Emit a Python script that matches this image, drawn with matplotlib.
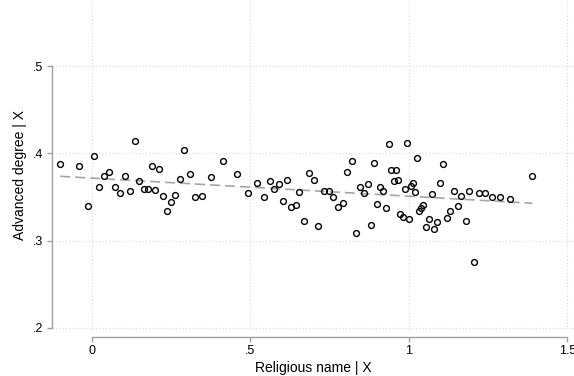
import matplotlib
matplotlib.use("Agg")
import matplotlib.pyplot as plt

plt.rcParams['font.family'] = ['Liberation Sans', 'DejaVu Sans']

# binned means
religious_name = [
    -0.101, -0.042, -0.013, 0.007, 0.023, 0.039, 0.055, 0.072, 0.088, 0.104,
    0.119, 0.135, 0.150, 0.164, 0.177, 0.188, 0.200, 0.211, 0.224, 0.237,
    0.250, 0.263, 0.278, 0.291, 0.309, 0.326, 0.348, 0.375, 0.413, 0.457,
    0.491, 0.521, 0.542, 0.562, 0.575, 0.590, 0.603, 0.615, 0.628, 0.643,
    0.654, 0.669, 0.684, 0.700, 0.714, 0.731, 0.748, 0.762, 0.776, 0.791,
    0.804, 0.819, 0.833, 0.846, 0.858, 0.870, 0.880, 0.890, 0.899, 0.909,
    0.918, 0.927, 0.937, 0.944, 0.959, 0.952, 0.967, 0.973, 0.982, 0.994,
    1.001, 0.987, 1.006, 1.013, 1.020, 1.026, 1.032, 1.038, 1.046, 1.054,
    1.063, 1.072, 1.080, 1.089, 1.098, 1.108, 1.119, 1.130, 1.143, 1.155,
    1.166, 1.180, 1.191, 1.206, 1.222, 1.240, 1.262, 1.287, 1.320, 1.390,
]
advanced_degree = [
    0.388, 0.385, 0.340, 0.397, 0.362, 0.374, 0.379, 0.361, 0.355, 0.374,
    0.357, 0.414, 0.368, 0.359, 0.359, 0.385, 0.358, 0.382, 0.351, 0.334,
    0.344, 0.352, 0.371, 0.404, 0.376, 0.350, 0.351, 0.373, 0.391, 0.376,
    0.355, 0.366, 0.350, 0.368, 0.359, 0.365, 0.345, 0.369, 0.339, 0.341,
    0.356, 0.322, 0.378, 0.369, 0.317, 0.357, 0.357, 0.350, 0.338, 0.343,
    0.379, 0.391, 0.309, 0.362, 0.355, 0.365, 0.318, 0.389, 0.342, 0.361,
    0.357, 0.337, 0.411, 0.381, 0.381, 0.368, 0.369, 0.330, 0.327, 0.412,
    0.325, 0.359, 0.363, 0.366, 0.356, 0.395, 0.334, 0.337, 0.341, 0.316,
    0.325, 0.353, 0.313, 0.321, 0.366, 0.388, 0.326, 0.334, 0.357, 0.340,
    0.351, 0.323, 0.357, 0.276, 0.355, 0.355, 0.350, 0.350, 0.348, 0.374,
]

# fitted line endpoints
fit_x = [-0.10, 1.39]
fit_y = [0.3737, 0.3428]

xticks = [0, 0.5, 1, 1.5]
xtick_labels = ['0', '.5', '1', '1.5']
yticks = [0.2, 0.3, 0.4, 0.5]
ytick_labels = ['.2', '.3', '.4', '.5']

fig = plt.figure(figsize=(5.74, 3.76), dpi=100)
ax = fig.add_axes([52 / 574, 1 - 330 / 376, 522 / 574, 330 / 376])

ax.grid(True, linestyle=(0, (1, 2)), color='#d9d9d9', linewidth=0.8)
ax.set_axisbelow(True)

ax.plot(fit_x, fit_y, linestyle=(0, (6, 3)), color='#a6a6a6', linewidth=1.2, zorder=2)
ax.plot(religious_name, advanced_degree, 'o', markersize=4.2, markerfacecolor='none',
        markeredgecolor='black', markeredgewidth=1.0, zorder=3)

ax.set_xlim(-0.126, 1.521)
ax.set_ylim(0.1977, 0.5756)
ax.set_xticks(xticks)
ax.set_xticklabels(xtick_labels)
ax.set_yticks(yticks)
ax.set_yticklabels(ytick_labels)

for s in ['top', 'right']:
    ax.spines[s].set_visible(False)
ax.spines['left'].set_bounds(0.2, 0.5)
ax.spines['bottom'].set_bounds(0, 1.5)
ax.spines['bottom'].set_position(('outward', 5))
for s in ['left', 'bottom']:
    ax.spines[s].set_color('#a0a0a0')
    ax.spines[s].set_linewidth(1.0)

ax.tick_params(axis='both', colors='#a0a0a0', labelcolor='black', length=3.6,
               width=1.0, labelsize=9, pad=2.5)

ax.set_xlabel('Religious name | X', fontsize=10)
ax.set_ylabel('Advanced degree | X', fontsize=10)
ax.xaxis.set_label_coords(0.5, -0.095)
ax.yaxis.set_label_coords(-0.048, 0.47)

fig.savefig('out.png', dpi=100)
